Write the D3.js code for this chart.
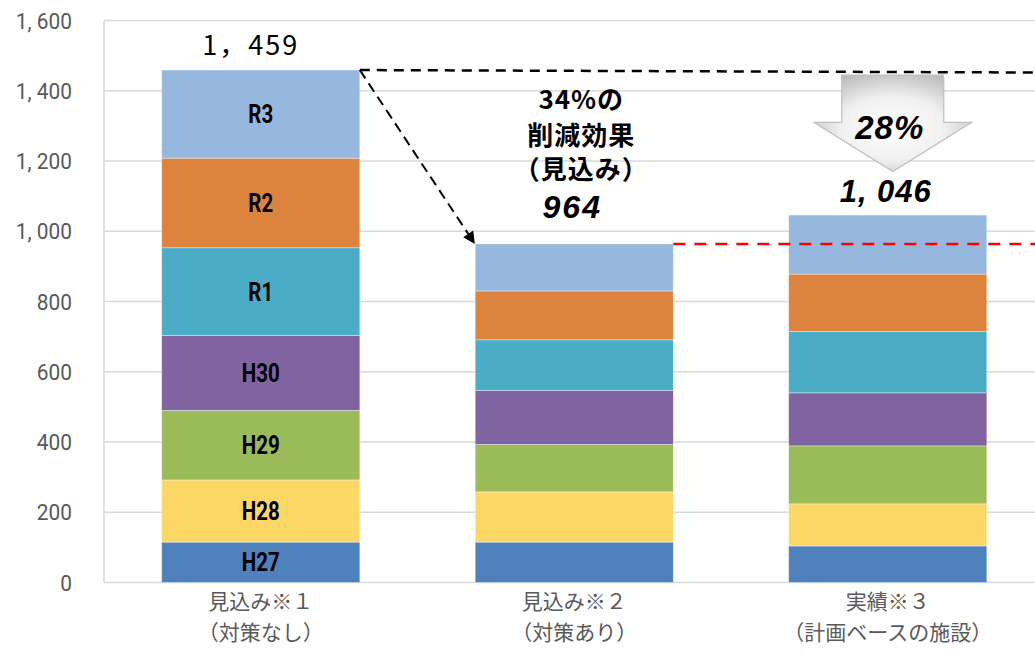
<!DOCTYPE html>
<html>
<head>
<meta charset="utf-8">
<script src="https://cdn.jsdelivr.net/npm/d3@7"></script>
<style>
  html, body { margin: 0; padding: 0; background: #fff; }
  svg { display: block; }
</style>
</head>
<body>
<div id="chart"></div>
<script>
// data
const series = ['H27', 'H28', 'H29', 'H30', 'R1', 'R2', 'R3'];
const colors = ['#4F81BD', '#FDD766', '#9BBB59', '#8064A2', '#4BACC6', '#DC843E', '#96B8DE'];
const catTop = ['見込み※１', '見込み※２', '実績※３'];
const catBottom = ['（対策なし）', '（対策あり）', '（計画ベースの施設）'];
const noMeasures = [115, 177, 198, 213, 250, 255, 251];
const withMeasures = [115, 143, 135, 154, 144, 139, 134];
const actual = [104, 120, 165, 151, 175, 163, 168];
const yTicks = [0, 200, 400, 600, 800, 1000, 1200, 1400, 1600];
const noteLines = ['34%の', '削減効果', '（見込み）'];
const arrowLabel = '28%';

const W = 1035, H = 653;
const plot = { left: 104, right: 1044.5, top: 20.5, bottom: 582.5 };

const rows = catTop.map((c, i) => {
  const vals = [noMeasures, withMeasures, actual][i];
  const r = { cat: c };
  series.forEach((s, j) => r[s] = vals[j]);
  return r;
});
const totals = rows.map(r => d3.sum(series, s => r[s]));

const svg = d3.select('#chart').append('svg')
  .attr('width', W)
  .attr('height', H);

const x = d3.scaleBand()
  .domain(catTop)
  .range([plot.left, plot.right])
  .paddingInner(0.368)
  .paddingOuter(0.184);

const y = d3.scaleLinear()
  .domain([0, 1600])
  .range([plot.bottom, plot.top]);

const color = d3.scaleOrdinal().domain(series).range(colors);

// grid
svg.append('g')
  .selectAll('line')
  .data(yTicks)
  .join('line')
  .attr('x1', plot.left)
  .attr('x2', W)
  .attr('y1', d => y(d))
  .attr('y2', d => y(d))
  .attr('stroke', '#D9D9D9')
  .attr('stroke-width', 1.5);

svg.append('line')
  .attr('x1', plot.left).attr('x2', plot.left)
  .attr('y1', y(1600)).attr('y2', y(0))
  .attr('stroke', '#D9D9D9')
  .attr('stroke-width', 1.5);

// y labels (narrowed Roboto)
svg.append('g')
  .selectAll('text')
  .data(yTicks)
  .join('text')
  .attr('transform', d => `translate(72, ${y(d) + 8}) scale(0.95, 1)`)
  .attr('text-anchor', 'end')
  .style('font-family', 'Roboto, sans-serif')
  .style('font-size', '22px')
  .style('white-space', 'pre')
  .attr('fill', '#595959')
  .text(d => d3.format(',')(d).replace(',', ', '));

// stacked bars
const stacked = d3.stack().keys(series)(rows);

const layers = svg.append('g')
  .selectAll('g')
  .data(stacked)
  .join('g')
  .attr('fill', d => color(d.key));

layers.selectAll('rect')
  .data(d => d)
  .join('rect')
  .attr('x', d => x(d.data.cat))
  .attr('y', d => y(d[1]))
  .attr('width', x.bandwidth())
  .attr('height', d => y(d[0]) - y(d[1]))
  .attr('stroke', 'rgba(255,255,255,0.45)')
  .attr('stroke-width', 0.8);

// series labels on first bar
svg.append('g')
  .selectAll('text')
  .data(stacked)
  .join('text')
  .attr('transform', d => `translate(${x(catTop[0]) + x.bandwidth() / 2}, ${(y(d[0][0]) + y(d[0][1])) / 2 + 9}) scale(0.82, 1)`)
  .attr('text-anchor', 'middle')
  .style('font-family', 'Roboto, sans-serif')
  .style('font-weight', 'bold')
  .style('font-size', '25px')
  .attr('fill', '#000')
  .text(d => d.key);

// category labels
const catG = svg.append('g')
  .style('font-family', '"Noto Sans CJK JP", sans-serif')
  .style('font-size', '21px')
  .attr('fill', '#595959')
  .attr('text-anchor', 'middle');
catG.selectAll('.c1')
  .data(catTop)
  .join('text')
  .attr('class', 'c1')
  .attr('x', d => x(d) + x.bandwidth() / 2)
  .attr('y', 609)
  .text(d => d);
catG.selectAll('.c2')
  .data(catBottom)
  .join('text')
  .attr('class', 'c2')
  .attr('x', (d, i) => x(catTop[i]) + x.bandwidth() / 2)
  .attr('y', 640)
  .text(d => d);

// red dashed line at the 964 level
svg.append('line')
  .attr('x1', x(catTop[1]) + x.bandwidth())
  .attr('x2', W)
  .attr('y1', y(totals[1]))
  .attr('y2', y(totals[1]))
  .attr('stroke', '#FF0000')
  .attr('stroke-width', 2.5)
  .attr('stroke-dasharray', '12 9');

// black dashed line from first bar top
svg.append('line')
  .attr('x1', x(catTop[0]) + x.bandwidth())
  .attr('x2', W)
  .attr('y1', y(totals[0]))
  .attr('y2', y(totals[0]) + 2.5)
  .attr('stroke', '#000')
  .attr('stroke-width', 2.5)
  .attr('stroke-dasharray', '10 7');

// dashed arrow down to second bar
const defs = svg.append('defs');
defs.append('marker')
  .attr('id', 'head')
  .attr('viewBox', '0 0 10 10')
  .attr('refX', 9)
  .attr('refY', 5)
  .attr('markerWidth', 7)
  .attr('markerHeight', 6)
  .attr('markerUnits', 'strokeWidth')
  .attr('orient', 'auto')
  .append('path')
  .attr('d', 'M0,0 L10,5 L0,10 Z')
  .attr('fill', '#000');

svg.append('line')
  .attr('x1', x(catTop[0]) + x.bandwidth())
  .attr('y1', y(totals[0]))
  .attr('x2', x(catTop[1]) - 1)
  .attr('y2', y(totals[1]) - 1)
  .attr('stroke', '#000')
  .attr('stroke-width', 2)
  .attr('stroke-dasharray', '10 6')
  .attr('marker-end', 'url(#head)');

// block arrow over third bar
const grad = defs.append('radialGradient')
  .attr('id', 'arrowFill')
  .attr('cx', '50%').attr('cy', '55%').attr('r', '60%');
grad.append('stop').attr('offset', '0%').attr('stop-color', '#FFFFFF');
grad.append('stop').attr('offset', '55%').attr('stop-color', '#F0F0F0');
grad.append('stop').attr('offset', '100%').attr('stop-color', '#BDBDBD');

const cx3 = x(catTop[2]) + x.bandwidth() / 2 + 5;
const aTop = y(totals[0]) + 5, aWing = y(1310), aTip = y(1170);
const shaft = 51, wing = 79;
svg.append('path')
  .attr('d', `M${cx3 - shaft},${aTop} L${cx3 + shaft},${aTop} L${cx3 + shaft},${aWing}
    L${cx3 + wing},${aWing} L${cx3},${aTip} L${cx3 - wing},${aWing} L${cx3 - shaft},${aWing} Z`)
  .attr('fill', 'url(#arrowFill)')
  .attr('stroke', '#BFBFBF')
  .attr('stroke-width', 1.2);

const heavy = sel => sel
  .attr('text-anchor', 'middle')
  .style('font-family', '"Liberation Sans", Arial, sans-serif')
  .style('font-weight', 900)
  .style('font-style', 'italic');

svg.append('text')
  .attr('x', cx3 - 3)
  .attr('y', 139)
  .call(heavy)
  .style('font-size', '33px')
  .style('letter-spacing', '1px')
  .text(arrowLabel);

// totals
svg.append('text')
  .attr('x', x(catTop[0]) + x.bandwidth() / 2 - 10)
  .attr('y', 55)
  .attr('text-anchor', 'middle')
  .style('font-family', '"Noto Sans CJK JP", sans-serif')
  .style('font-size', '27px')
  .style('letter-spacing', '2px')
  .text(d3.format(',')(totals[0]).replace(',', '，'));

svg.append('text')
  .attr('x', x(catTop[1]) + x.bandwidth() / 2 - 2)
  .attr('y', 218)
  .call(heavy)
  .style('font-size', '32px')
  .style('letter-spacing', '2px')
  .text(d3.format(',')(totals[1]));

svg.append('text')
  .attr('x', x(catTop[2]) + x.bandwidth() / 2 - 2)
  .attr('y', 202)
  .call(heavy)
  .style('font-size', '31px')
  .style('letter-spacing', '1px')
  .text(d3.format(',')(totals[2]).replace(',', ', '));

// reduction note
svg.append('g')
  .selectAll('text')
  .data(noteLines)
  .join('text')
  .attr('x', x(catTop[1]) + x.bandwidth() / 2 + 7)
  .attr('y', (d, i) => [109, 145, 179][i])
  .attr('text-anchor', 'middle')
  .style('font-family', '"Noto Sans CJK JP", sans-serif')
  .style('font-weight', 'bold')
  .style('font-size', '26px')
  .style('letter-spacing', '1px')
  .text(d => d);
</script>
</body>
</html>
